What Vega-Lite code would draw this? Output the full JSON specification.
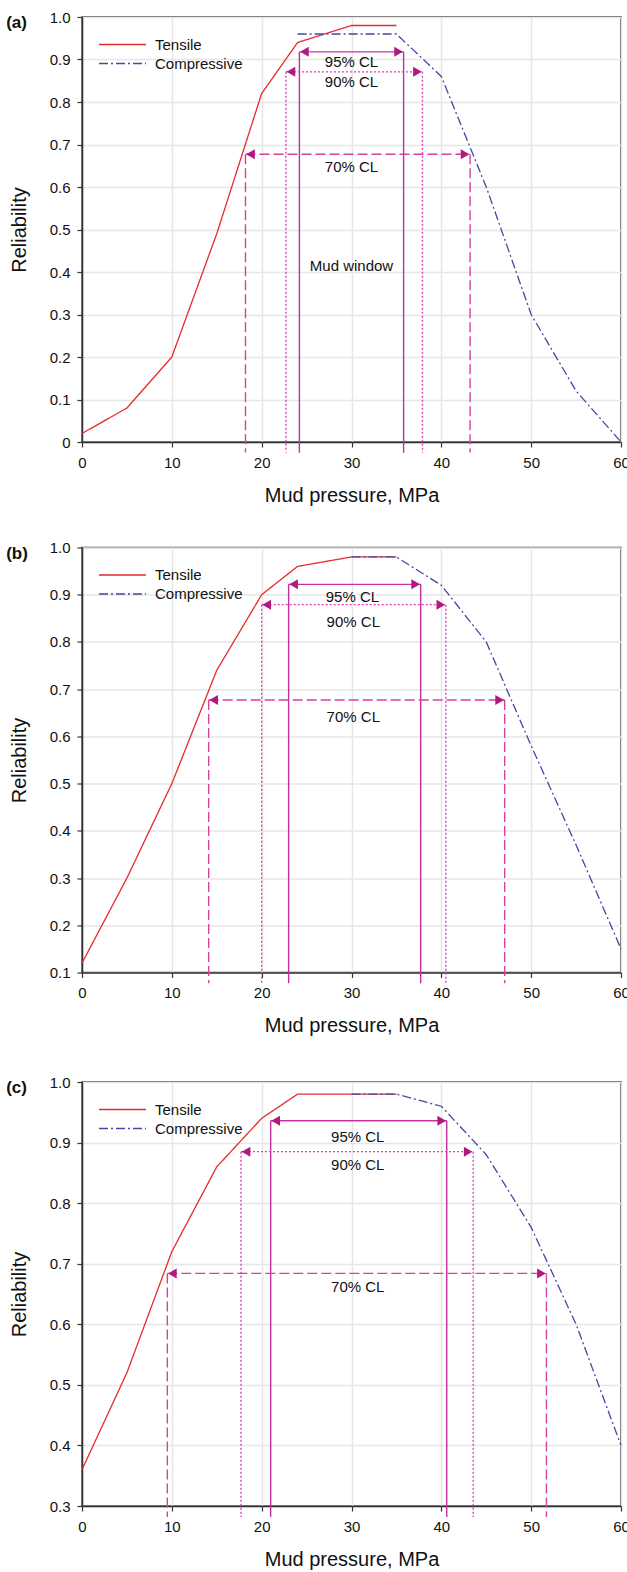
{
  "$schema": "https://vega.github.io/schema/vega-lite/v6.json",
  "padding": {"left": 5, "top": 9, "right": 0, "bottom": 0},
  "background": "white",
  "config": {
    "font": "Liberation Sans",
    "view": {"stroke": "#333333", "strokeWidth": 1.5},
    "axis": {
      "labelFont": "Liberation Sans", "titleFont": "Liberation Sans",
      "labelFontSize": 15, "titleFontSize": 20, "titleFontWeight": "normal",
      "labelColor": "#111111", "titleColor": "#111111",
      "grid": true, "gridColor": "#e6e6e6", "gridWidth": 1.5,
      "domainColor": "#333333", "domainWidth": 1.5,
      "tickColor": "#333333", "tickSize": 5, "tickWidth": 1.2,
      "labelFlush": false, "labelOverlap": false
    },
    "axisX": {"labelPadding": 8, "titlePadding": 15},
    "axisY": {"labelPadding": 7, "titlePadding": 20},
    "text": {"font": "Liberation Sans", "fontSize": 15, "color": "#111111"}
  },
  "datasets": {
    "curves": [
      {"panel": "a", "series": "Tensile", "x": 0, "y": 0.02},
      {"panel": "a", "series": "Tensile", "x": 5, "y": 0.08},
      {"panel": "a", "series": "Tensile", "x": 10, "y": 0.2},
      {"panel": "a", "series": "Tensile", "x": 15, "y": 0.49},
      {"panel": "a", "series": "Tensile", "x": 20, "y": 0.82},
      {"panel": "a", "series": "Tensile", "x": 24, "y": 0.94},
      {"panel": "a", "series": "Tensile", "x": 30, "y": 0.98},
      {"panel": "a", "series": "Tensile", "x": 35, "y": 0.98},
      {"panel": "a", "series": "Compressive", "x": 24, "y": 0.96},
      {"panel": "a", "series": "Compressive", "x": 35, "y": 0.96},
      {"panel": "a", "series": "Compressive", "x": 40, "y": 0.86},
      {"panel": "a", "series": "Compressive", "x": 45, "y": 0.6},
      {"panel": "a", "series": "Compressive", "x": 50, "y": 0.3},
      {"panel": "a", "series": "Compressive", "x": 55, "y": 0.12},
      {"panel": "a", "series": "Compressive", "x": 60, "y": 0.0},
      {"panel": "b", "series": "Tensile", "x": 0, "y": 0.12},
      {"panel": "b", "series": "Tensile", "x": 5, "y": 0.3},
      {"panel": "b", "series": "Tensile", "x": 10, "y": 0.5},
      {"panel": "b", "series": "Tensile", "x": 15, "y": 0.74},
      {"panel": "b", "series": "Tensile", "x": 20, "y": 0.9},
      {"panel": "b", "series": "Tensile", "x": 24, "y": 0.96},
      {"panel": "b", "series": "Tensile", "x": 30, "y": 0.98},
      {"panel": "b", "series": "Tensile", "x": 35, "y": 0.98},
      {"panel": "b", "series": "Compressive", "x": 30, "y": 0.98},
      {"panel": "b", "series": "Compressive", "x": 35, "y": 0.98},
      {"panel": "b", "series": "Compressive", "x": 40, "y": 0.92},
      {"panel": "b", "series": "Compressive", "x": 45, "y": 0.8},
      {"panel": "b", "series": "Compressive", "x": 50, "y": 0.58},
      {"panel": "b", "series": "Compressive", "x": 55, "y": 0.37},
      {"panel": "b", "series": "Compressive", "x": 60, "y": 0.15},
      {"panel": "c", "series": "Tensile", "x": 0, "y": 0.36},
      {"panel": "c", "series": "Tensile", "x": 5, "y": 0.52},
      {"panel": "c", "series": "Tensile", "x": 10, "y": 0.72},
      {"panel": "c", "series": "Tensile", "x": 15, "y": 0.86},
      {"panel": "c", "series": "Tensile", "x": 20, "y": 0.94},
      {"panel": "c", "series": "Tensile", "x": 24, "y": 0.98},
      {"panel": "c", "series": "Tensile", "x": 35, "y": 0.98},
      {"panel": "c", "series": "Compressive", "x": 30, "y": 0.98},
      {"panel": "c", "series": "Compressive", "x": 35, "y": 0.98},
      {"panel": "c", "series": "Compressive", "x": 40, "y": 0.96},
      {"panel": "c", "series": "Compressive", "x": 45, "y": 0.88},
      {"panel": "c", "series": "Compressive", "x": 50, "y": 0.76},
      {"panel": "c", "series": "Compressive", "x": 55, "y": 0.6},
      {"panel": "c", "series": "Compressive", "x": 60, "y": 0.4}
    ],
    "cls": [
      {"panel": "a", "cl": "95%", "label": "95% CL", "y": 0.918, "x1": 24.2, "x2": 35.8, "tx": 30, "ty": 0.894},
      {"panel": "a", "cl": "90%", "label": "90% CL", "y": 0.871, "x1": 22.7, "x2": 37.9, "tx": 30, "ty": 0.847},
      {"panel": "a", "cl": "70%", "label": "70% CL", "y": 0.677, "x1": 18.2, "x2": 43.2, "tx": 30, "ty": 0.647},
      {"panel": "b", "cl": "95%", "label": "95% CL", "y": 0.922, "x1": 23.0, "x2": 37.7, "tx": 30.1, "ty": 0.896},
      {"panel": "b", "cl": "90%", "label": "90% CL", "y": 0.879, "x1": 20.0, "x2": 40.5, "tx": 30.2, "ty": 0.843},
      {"panel": "b", "cl": "70%", "label": "70% CL", "y": 0.677, "x1": 14.1, "x2": 47.05, "tx": 30.2, "ty": 0.642},
      {"panel": "c", "cl": "95%", "label": "95% CL", "y": 0.936, "x1": 21.0, "x2": 40.6, "tx": 30.7, "ty": 0.909},
      {"panel": "c", "cl": "90%", "label": "90% CL", "y": 0.885, "x1": 17.7, "x2": 43.55, "tx": 30.7, "ty": 0.863},
      {"panel": "c", "cl": "70%", "label": "70% CL", "y": 0.684, "x1": 9.5, "x2": 51.7, "tx": 30.7, "ty": 0.662}
    ],
    "notes": [
      {"panel": "a", "label": "Mud window", "x": 30, "y": 0.413}
    ]
  },
  "vconcat": [
    {
      "spacing": 33.5,
      "resolve": {"scale": {"x": "independent", "y": "independent", "color": "independent", "strokeDash": "independent"}, "legend": {"color": "independent", "strokeDash": "independent"}},
      "vconcat": [
        {
          "width": 539, "height": 425,
          "title": {"text": "(a)", "anchor": "start", "frame": "bounds", "orient": "top", "offset": -35, "baseline": "alphabetic", "fontSize": 17, "fontWeight": "bold", "color": "#111111", "dx": -3},
          "layer": [
            {
              "data": {"name": "curves"},
              "transform": [{"filter": "datum.panel == 'a'"}],
              "mark": {"type": "line", "strokeWidth": 1.3},
              "encoding": {
                "x": {"field": "x", "type": "quantitative", "title": "Mud pressure, MPa", "scale": {"domain": [0, 60], "nice": false}, "axis": {"values": [0, 10, 20, 30, 40, 50, 60]}},
                "y": {"field": "y", "type": "quantitative", "title": "Reliability", "scale": {"domain": [0, 1], "nice": false, "zero": false}, "axis": {"values": [0, 0.1, 0.2, 0.3, 0.4, 0.5, 0.6, 0.7, 0.8, 0.9, 1.0], "labelExpr": "datum.value == 0 ? '0' : format(datum.value, '.1f')"}},
                "color": {"field": "series", "type": "nominal", "scale": {"domain": ["Tensile", "Compressive"], "range": ["#e62b2b", "#4646a6"]}, "legend": {"title": null, "orient": "none", "legendX": 16, "legendY": 19, "symbolType": "stroke", "symbolSize": 2209, "symbolStrokeWidth": 1.5, "labelFontSize": 15, "labelOffset": 8, "clipHeight": 17, "rowPadding": 2, "padding": 0, "labelColor": "#111111"}},
                "strokeDash": {"field": "series", "type": "nominal", "scale": {"domain": ["Tensile", "Compressive"], "range": [[1, 0], [9, 3, 2, 3]]}, "legend": {"title": null, "orient": "none", "legendX": 16, "legendY": 19, "symbolType": "stroke", "symbolSize": 2209, "symbolStrokeWidth": 1.5, "labelFontSize": 15, "labelOffset": 8, "clipHeight": 17, "rowPadding": 2, "padding": 0, "labelColor": "#111111"}}
              }
            },
            {
              "data": {"name": "cls"},
              "transform": [{"filter": "datum.panel == 'a'"}, {"fold": ["x1", "x2"], "as": ["end", "xv"]}],
              "mark": {"type": "rule", "strokeWidth": 1.4},
              "encoding": {
                "x": {"field": "xv", "type": "quantitative", "title": "Mud pressure, MPa", "scale": {"domain": [0, 60], "nice": false}},
                "y": {"field": "y", "type": "quantitative", "title": "Reliability", "scale": {"domain": [0, 1], "nice": false, "zero": false}},
                "y2": {"datum": -0.025},
                "color": {"condition": [{"test": "datum.cl == '90%'", "value": "#e03cbc"}, {"test": "datum.cl == '70%'", "value": "#d6409f"}], "value": "#c02f9c"},
                "strokeDash": {"condition": [{"test": "datum.cl == '90%'", "value": [2, 2]}, {"test": "datum.cl == '70%'", "value": [10, 4]}], "value": [1, 0]}
              }
            },
            {
              "data": {"name": "cls"},
              "transform": [{"filter": "datum.panel == 'a'"}],
              "mark": {"type": "rule", "strokeWidth": 1.4},
              "encoding": {
                "x": {"field": "x1", "type": "quantitative", "title": "Mud pressure, MPa", "scale": {"domain": [0, 60], "nice": false}},
                "x2": {"field": "x2"},
                "y": {"field": "y", "type": "quantitative", "title": "Reliability", "scale": {"domain": [0, 1], "nice": false, "zero": false}},
                "color": {"condition": [{"test": "datum.cl == '90%'", "value": "#e03cbc"}, {"test": "datum.cl == '70%'", "value": "#d6409f"}], "value": "#c8329f"},
                "strokeDash": {"condition": [{"test": "datum.cl == '90%'", "value": [2, 2]}, {"test": "datum.cl == '70%'", "value": [10, 4]}], "value": [1, 0]}
              }
            },
            {
              "data": {"name": "cls"},
              "transform": [{"filter": "datum.panel == 'a'"}],
              "mark": {"type": "point", "shape": "triangle-left", "filled": true, "size": 100, "xOffset": 5, "color": "#b3187f", "opacity": 1},
              "encoding": {
                "x": {"field": "x1", "type": "quantitative", "title": "Mud pressure, MPa", "scale": {"domain": [0, 60], "nice": false}},
                "y": {"field": "y", "type": "quantitative", "title": "Reliability", "scale": {"domain": [0, 1], "nice": false, "zero": false}}
              }
            },
            {
              "data": {"name": "cls"},
              "transform": [{"filter": "datum.panel == 'a'"}],
              "mark": {"type": "point", "shape": "triangle-right", "filled": true, "size": 100, "xOffset": -5, "color": "#b3187f", "opacity": 1},
              "encoding": {
                "x": {"field": "x2", "type": "quantitative", "title": "Mud pressure, MPa", "scale": {"domain": [0, 60], "nice": false}},
                "y": {"field": "y", "type": "quantitative", "title": "Reliability", "scale": {"domain": [0, 1], "nice": false, "zero": false}}
              }
            },
            {
              "data": {"name": "cls"},
              "transform": [{"filter": "datum.panel == 'a'"}],
              "mark": {"type": "text", "baseline": "middle", "align": "center"},
              "encoding": {
                "x": {"field": "tx", "type": "quantitative", "title": "Mud pressure, MPa", "scale": {"domain": [0, 60], "nice": false}},
                "y": {"field": "ty", "type": "quantitative", "title": "Reliability", "scale": {"domain": [0, 1], "nice": false, "zero": false}},
                "text": {"field": "label"}
              }
            },
            {
              "data": {"name": "notes"},
              "transform": [{"filter": "datum.panel == 'a'"}],
              "mark": {"type": "text", "baseline": "middle", "align": "center"},
              "encoding": {
                "x": {"field": "x", "type": "quantitative", "title": "Mud pressure, MPa", "scale": {"domain": [0, 60], "nice": false}},
                "y": {"field": "y", "type": "quantitative", "title": "Reliability", "scale": {"domain": [0, 1], "nice": false, "zero": false}},
                "text": {"field": "label"}
              }
            }
          ]
        },
        {
          "width": 539, "height": 425,
          "title": {"text": "(b)", "anchor": "start", "frame": "bounds", "orient": "top", "offset": -35, "baseline": "alphabetic", "fontSize": 17, "fontWeight": "bold", "color": "#111111", "dx": -3},
          "layer": [
            {
              "data": {"name": "curves"},
              "transform": [{"filter": "datum.panel == 'b'"}],
              "mark": {"type": "line", "strokeWidth": 1.3},
              "encoding": {
                "x": {"field": "x", "type": "quantitative", "title": "Mud pressure, MPa", "scale": {"domain": [0, 60], "nice": false}, "axis": {"values": [0, 10, 20, 30, 40, 50, 60]}},
                "y": {"field": "y", "type": "quantitative", "title": "Reliability", "scale": {"domain": [0.1, 1], "nice": false, "zero": false}, "axis": {"values": [0.1, 0.2, 0.3, 0.4, 0.5, 0.6, 0.7, 0.8, 0.9, 1.0], "format": ".1f"}},
                "color": {"field": "series", "type": "nominal", "scale": {"domain": ["Tensile", "Compressive"], "range": ["#e62b2b", "#4646a6"]}, "legend": {"title": null, "orient": "none", "legendX": 16, "legendY": 19, "symbolType": "stroke", "symbolSize": 2209, "symbolStrokeWidth": 1.5, "labelFontSize": 15, "labelOffset": 8, "clipHeight": 17, "rowPadding": 2, "padding": 0, "labelColor": "#111111"}},
                "strokeDash": {"field": "series", "type": "nominal", "scale": {"domain": ["Tensile", "Compressive"], "range": [[1, 0], [9, 3, 2, 3]]}, "legend": {"title": null, "orient": "none", "legendX": 16, "legendY": 19, "symbolType": "stroke", "symbolSize": 2209, "symbolStrokeWidth": 1.5, "labelFontSize": 15, "labelOffset": 8, "clipHeight": 17, "rowPadding": 2, "padding": 0, "labelColor": "#111111"}}
              }
            },
            {
              "data": {"name": "cls"},
              "transform": [{"filter": "datum.panel == 'b'"}, {"fold": ["x1", "x2"], "as": ["end", "xv"]}],
              "mark": {"type": "rule", "strokeWidth": 1.4},
              "encoding": {
                "x": {"field": "xv", "type": "quantitative", "title": "Mud pressure, MPa", "scale": {"domain": [0, 60], "nice": false}},
                "y": {"field": "y", "type": "quantitative", "title": "Reliability", "scale": {"domain": [0.1, 1], "nice": false, "zero": false}},
                "y2": {"datum": 0.077},
                "color": {"condition": [{"test": "datum.cl == '90%'", "value": "#e03cbc"}, {"test": "datum.cl == '70%'", "value": "#d6409f"}], "value": "#c02f9c"},
                "strokeDash": {"condition": [{"test": "datum.cl == '90%'", "value": [2, 2]}, {"test": "datum.cl == '70%'", "value": [10, 4]}], "value": [1, 0]}
              }
            },
            {
              "data": {"name": "cls"},
              "transform": [{"filter": "datum.panel == 'b'"}],
              "mark": {"type": "rule", "strokeWidth": 1.4},
              "encoding": {
                "x": {"field": "x1", "type": "quantitative", "title": "Mud pressure, MPa", "scale": {"domain": [0, 60], "nice": false}},
                "x2": {"field": "x2"},
                "y": {"field": "y", "type": "quantitative", "title": "Reliability", "scale": {"domain": [0.1, 1], "nice": false, "zero": false}},
                "color": {"condition": [{"test": "datum.cl == '90%'", "value": "#e03cbc"}, {"test": "datum.cl == '70%'", "value": "#d6409f"}], "value": "#c8329f"},
                "strokeDash": {"condition": [{"test": "datum.cl == '90%'", "value": [2, 2]}, {"test": "datum.cl == '70%'", "value": [10, 4]}], "value": [1, 0]}
              }
            },
            {
              "data": {"name": "cls"},
              "transform": [{"filter": "datum.panel == 'b'"}],
              "mark": {"type": "point", "shape": "triangle-left", "filled": true, "size": 100, "xOffset": 5, "color": "#b3187f", "opacity": 1},
              "encoding": {
                "x": {"field": "x1", "type": "quantitative", "title": "Mud pressure, MPa", "scale": {"domain": [0, 60], "nice": false}},
                "y": {"field": "y", "type": "quantitative", "title": "Reliability", "scale": {"domain": [0.1, 1], "nice": false, "zero": false}}
              }
            },
            {
              "data": {"name": "cls"},
              "transform": [{"filter": "datum.panel == 'b'"}],
              "mark": {"type": "point", "shape": "triangle-right", "filled": true, "size": 100, "xOffset": -5, "color": "#b3187f", "opacity": 1},
              "encoding": {
                "x": {"field": "x2", "type": "quantitative", "title": "Mud pressure, MPa", "scale": {"domain": [0, 60], "nice": false}},
                "y": {"field": "y", "type": "quantitative", "title": "Reliability", "scale": {"domain": [0.1, 1], "nice": false, "zero": false}}
              }
            },
            {
              "data": {"name": "cls"},
              "transform": [{"filter": "datum.panel == 'b'"}],
              "mark": {"type": "text", "baseline": "middle", "align": "center"},
              "encoding": {
                "x": {"field": "tx", "type": "quantitative", "title": "Mud pressure, MPa", "scale": {"domain": [0, 60], "nice": false}},
                "y": {"field": "ty", "type": "quantitative", "title": "Reliability", "scale": {"domain": [0.1, 1], "nice": false, "zero": false}},
                "text": {"field": "label"}
              }
            }
          ]
        }
      ]
    },
    {
      "width": 539, "height": 424,
      "title": {"text": "(c)", "anchor": "start", "frame": "bounds", "orient": "top", "offset": -35, "baseline": "alphabetic", "fontSize": 17, "fontWeight": "bold", "color": "#111111", "dx": -3},
      "layer": [
        {
          "data": {"name": "curves"},
          "transform": [{"filter": "datum.panel == 'c'"}],
          "mark": {"type": "line", "strokeWidth": 1.3},
          "encoding": {
            "x": {"field": "x", "type": "quantitative", "title": "Mud pressure, MPa", "scale": {"domain": [0, 60], "nice": false}, "axis": {"values": [0, 10, 20, 30, 40, 50, 60]}},
            "y": {"field": "y", "type": "quantitative", "title": "Reliability", "scale": {"domain": [0.3, 1], "nice": false, "zero": false}, "axis": {"values": [0.3, 0.4, 0.5, 0.6, 0.7, 0.8, 0.9, 1.0], "format": ".1f"}},
            "color": {"field": "series", "type": "nominal", "scale": {"domain": ["Tensile", "Compressive"], "range": ["#e62b2b", "#4646a6"]}, "legend": {"title": null, "orient": "none", "legendX": 16, "legendY": 19, "symbolType": "stroke", "symbolSize": 2209, "symbolStrokeWidth": 1.5, "labelFontSize": 15, "labelOffset": 8, "clipHeight": 17, "rowPadding": 2, "padding": 0, "labelColor": "#111111"}},
            "strokeDash": {"field": "series", "type": "nominal", "scale": {"domain": ["Tensile", "Compressive"], "range": [[1, 0], [9, 3, 2, 3]]}, "legend": {"title": null, "orient": "none", "legendX": 16, "legendY": 19, "symbolType": "stroke", "symbolSize": 2209, "symbolStrokeWidth": 1.5, "labelFontSize": 15, "labelOffset": 8, "clipHeight": 17, "rowPadding": 2, "padding": 0, "labelColor": "#111111"}}
          }
        },
        {
          "data": {"name": "cls"},
          "transform": [{"filter": "datum.panel == 'c'"}, {"fold": ["x1", "x2"], "as": ["end", "xv"]}],
          "mark": {"type": "rule", "strokeWidth": 1.4},
          "encoding": {
            "x": {"field": "xv", "type": "quantitative", "title": "Mud pressure, MPa", "scale": {"domain": [0, 60], "nice": false}},
            "y": {"field": "y", "type": "quantitative", "title": "Reliability", "scale": {"domain": [0.3, 1], "nice": false, "zero": false}},
            "y2": {"datum": 0.282},
            "color": {"condition": [{"test": "datum.cl == '90%'", "value": "#e03cbc"}, {"test": "datum.cl == '70%'", "value": "#d6409f"}], "value": "#c02f9c"},
            "strokeDash": {"condition": [{"test": "datum.cl == '90%'", "value": [2, 2]}, {"test": "datum.cl == '70%'", "value": [10, 4]}], "value": [1, 0]}
          }
        },
        {
          "data": {"name": "cls"},
          "transform": [{"filter": "datum.panel == 'c'"}],
          "mark": {"type": "rule", "strokeWidth": 1.4},
          "encoding": {
            "x": {"field": "x1", "type": "quantitative", "title": "Mud pressure, MPa", "scale": {"domain": [0, 60], "nice": false}},
            "x2": {"field": "x2"},
            "y": {"field": "y", "type": "quantitative", "title": "Reliability", "scale": {"domain": [0.3, 1], "nice": false, "zero": false}},
            "color": {"condition": [{"test": "datum.cl == '90%'", "value": "#e03cbc"}, {"test": "datum.cl == '70%'", "value": "#d6409f"}], "value": "#c8329f"},
            "strokeDash": {"condition": [{"test": "datum.cl == '90%'", "value": [2, 2]}, {"test": "datum.cl == '70%'", "value": [10, 4]}], "value": [1, 0]}
          }
        },
        {
          "data": {"name": "cls"},
          "transform": [{"filter": "datum.panel == 'c'"}],
          "mark": {"type": "point", "shape": "triangle-left", "filled": true, "size": 100, "xOffset": 5, "color": "#b3187f", "opacity": 1},
          "encoding": {
            "x": {"field": "x1", "type": "quantitative", "title": "Mud pressure, MPa", "scale": {"domain": [0, 60], "nice": false}},
            "y": {"field": "y", "type": "quantitative", "title": "Reliability", "scale": {"domain": [0.3, 1], "nice": false, "zero": false}}
          }
        },
        {
          "data": {"name": "cls"},
          "transform": [{"filter": "datum.panel == 'c'"}],
          "mark": {"type": "point", "shape": "triangle-right", "filled": true, "size": 100, "xOffset": -5, "color": "#b3187f", "opacity": 1},
          "encoding": {
            "x": {"field": "x2", "type": "quantitative", "title": "Mud pressure, MPa", "scale": {"domain": [0, 60], "nice": false}},
            "y": {"field": "y", "type": "quantitative", "title": "Reliability", "scale": {"domain": [0.3, 1], "nice": false, "zero": false}}
          }
        },
        {
          "data": {"name": "cls"},
          "transform": [{"filter": "datum.panel == 'c'"}],
          "mark": {"type": "text", "baseline": "middle", "align": "center"},
          "encoding": {
            "x": {"field": "tx", "type": "quantitative", "title": "Mud pressure, MPa", "scale": {"domain": [0, 60], "nice": false}},
            "y": {"field": "ty", "type": "quantitative", "title": "Reliability", "scale": {"domain": [0.3, 1], "nice": false, "zero": false}},
            "text": {"field": "label"}
          }
        }
      ]
    }
  ],
  "spacing": 37,
  "resolve": {"scale": {"x": "independent", "y": "independent", "color": "independent", "strokeDash": "independent"}, "legend": {"color": "independent", "strokeDash": "independent"}}
}
